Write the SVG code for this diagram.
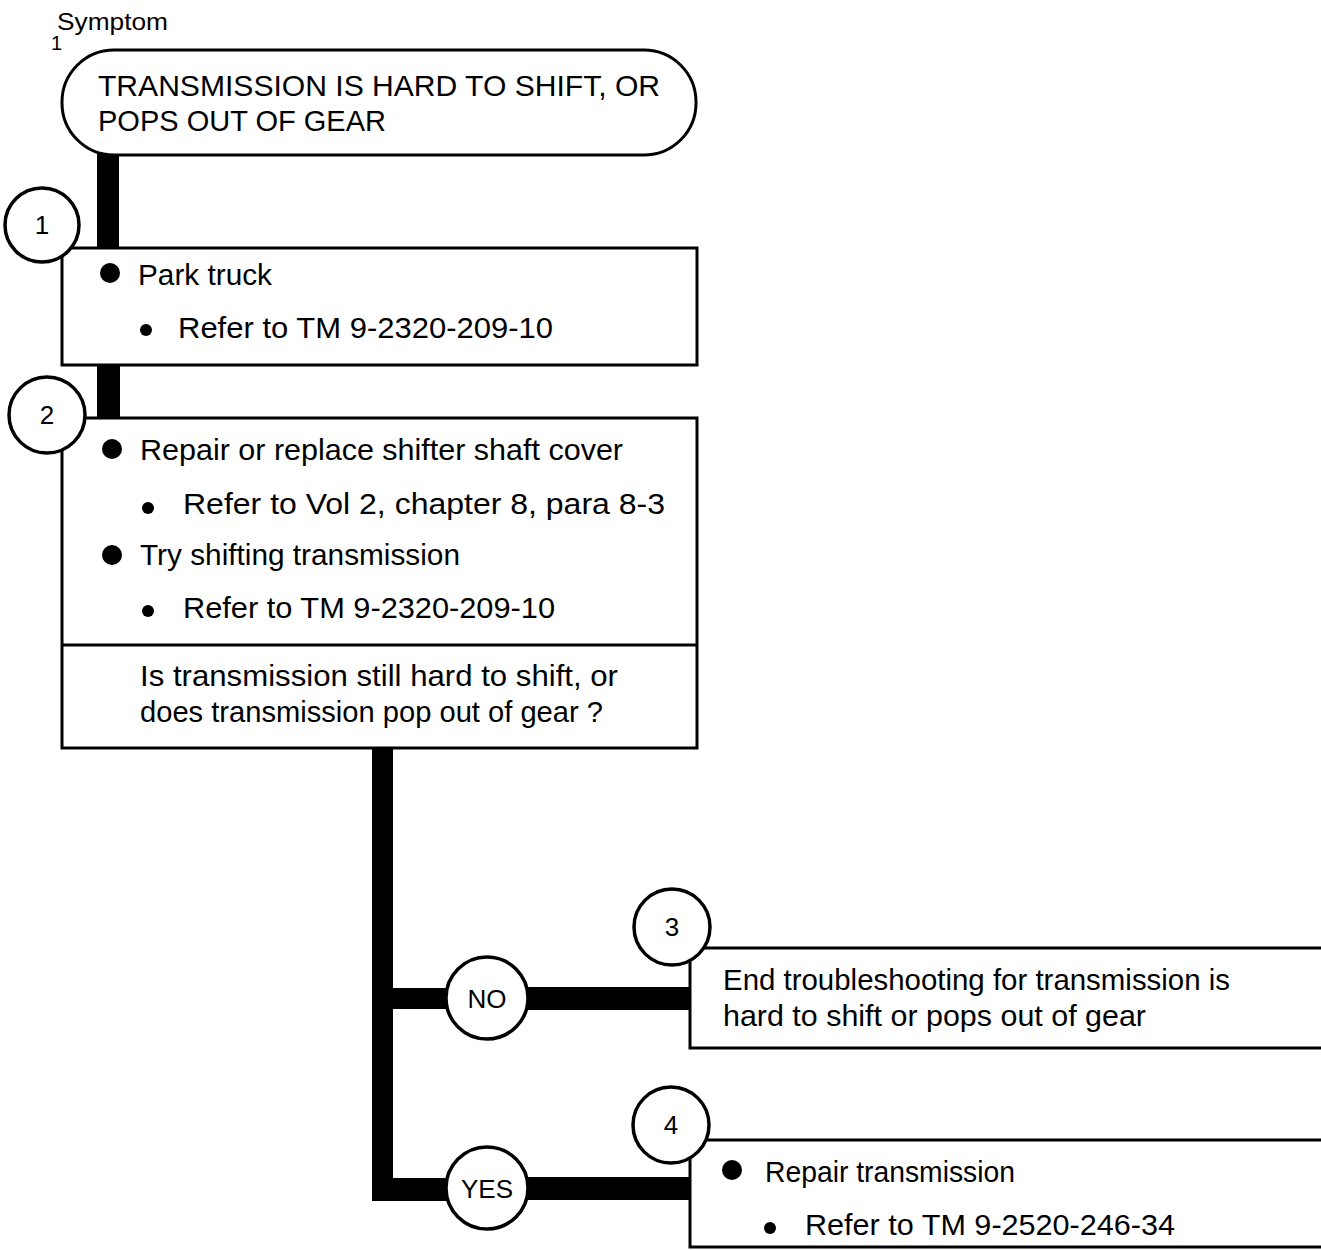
<svg xmlns="http://www.w3.org/2000/svg" width="1321" height="1250" viewBox="0 0 1321 1250">
<style>
text{font-family:"Liberation Sans",Arial,sans-serif;fill:#000}
.box{fill:#fff;stroke:#000;stroke-width:3}
.num{fill:#fff;stroke:#000;stroke-width:3.5}
.t{font-size:29px}
.h{font-size:30px}
.n{font-size:26px;text-anchor:middle}
.bar{fill:#000}
</style>
<rect width="1321" height="1250" fill="#fff"/>
<text x="57" y="30" style="font-size:24px" textLength="111" lengthAdjust="spacingAndGlyphs">Symptom</text>
<text x="51" y="50" style="font-size:20px">1</text>

<g id="connectors">
<rect class="bar" x="97" y="150" width="22" height="100"/>
<rect class="bar" x="97" y="362" width="23" height="58"/>
<rect class="bar" x="372" y="746" width="21" height="455"/>
<rect class="bar" x="372" y="988" width="80" height="21"/>
<rect class="bar" x="525" y="987" width="168" height="23"/>
<rect class="bar" x="372" y="1178" width="80" height="23"/>
<rect class="bar" x="525" y="1177" width="168" height="23"/>
</g>

<g id="symptom">
<rect class="box" x="62" y="50" width="634" height="105" rx="52" ry="52"/>
<text class="h" x="98" y="96" textLength="562" lengthAdjust="spacingAndGlyphs">TRANSMISSION IS HARD TO SHIFT, OR</text>
<text class="h" x="98" y="131" textLength="288" lengthAdjust="spacingAndGlyphs">POPS OUT OF GEAR</text>
</g>

<g id="step1">
<rect class="box" x="62" y="248" width="635" height="117"/>
<circle cx="110" cy="273" r="10"/>
<text class="t" x="138" y="285" textLength="134" lengthAdjust="spacingAndGlyphs">Park truck</text>
<circle cx="146" cy="330" r="6"/>
<text class="t" x="178" y="338" textLength="375" lengthAdjust="spacingAndGlyphs">Refer to TM 9-2320-209-10</text>
</g>
<g id="num1">
<circle class="num" cx="42" cy="225" r="37"/>
<text class="n" x="42" y="234">1</text>
</g>

<g id="step2">
<rect class="box" x="62" y="418" width="635" height="330"/>
<line x1="62" y1="645" x2="697" y2="645" stroke="#000" stroke-width="3"/>
<circle cx="112" cy="449" r="10"/>
<text class="t" x="140" y="460" textLength="483" lengthAdjust="spacingAndGlyphs">Repair or replace shifter shaft cover</text>
<circle cx="148" cy="508" r="6"/>
<text class="t" x="183" y="514" textLength="482" lengthAdjust="spacingAndGlyphs">Refer to Vol 2, chapter 8, para 8-3</text>
<circle cx="112" cy="555" r="10"/>
<text class="t" x="140" y="565" textLength="320" lengthAdjust="spacingAndGlyphs">Try shifting transmission</text>
<circle cx="148" cy="611" r="6"/>
<text class="t" x="183" y="618" textLength="372" lengthAdjust="spacingAndGlyphs">Refer to TM 9-2320-209-10</text>
<text class="t" x="140" y="686" textLength="478" lengthAdjust="spacingAndGlyphs">Is transmission still hard to shift, or</text>
<text class="t" x="140" y="722" textLength="463" lengthAdjust="spacingAndGlyphs">does transmission pop out of gear ?</text>
</g>
<g id="num2">
<circle class="num" cx="47" cy="415" r="38"/>
<text class="n" x="47" y="424">2</text>
</g>

<g id="no">
<circle class="num" cx="487" cy="998" r="41"/>
<text class="n" x="487" y="1008">NO</text>
</g>
<g id="yes">
<circle class="num" cx="487" cy="1188" r="41"/>
<text class="n" x="487" y="1198">YES</text>
</g>

<g id="step3">
<rect class="box" x="690" y="948" width="640" height="100"/>
<text class="t" x="723" y="990" textLength="507" lengthAdjust="spacingAndGlyphs">End troubleshooting for transmission is</text>
<text class="t" x="723" y="1026" textLength="423" lengthAdjust="spacingAndGlyphs">hard to shift or pops out of gear</text>
</g>
<g id="num3">
<circle class="num" cx="672" cy="927" r="38"/>
<text class="n" x="672" y="936">3</text>
</g>

<g id="step4">
<rect class="box" x="690" y="1140" width="640" height="107"/>
<circle cx="732" cy="1170" r="10"/>
<text class="t" x="765" y="1182" textLength="250" lengthAdjust="spacingAndGlyphs">Repair transmission</text>
<circle cx="770" cy="1228" r="6"/>
<text class="t" x="805" y="1235" textLength="370" lengthAdjust="spacingAndGlyphs">Refer to TM 9-2520-246-34</text>
</g>
<g id="num4">
<circle class="num" cx="671" cy="1125" r="38"/>
<text class="n" x="671" y="1134">4</text>
</g>
</svg>
